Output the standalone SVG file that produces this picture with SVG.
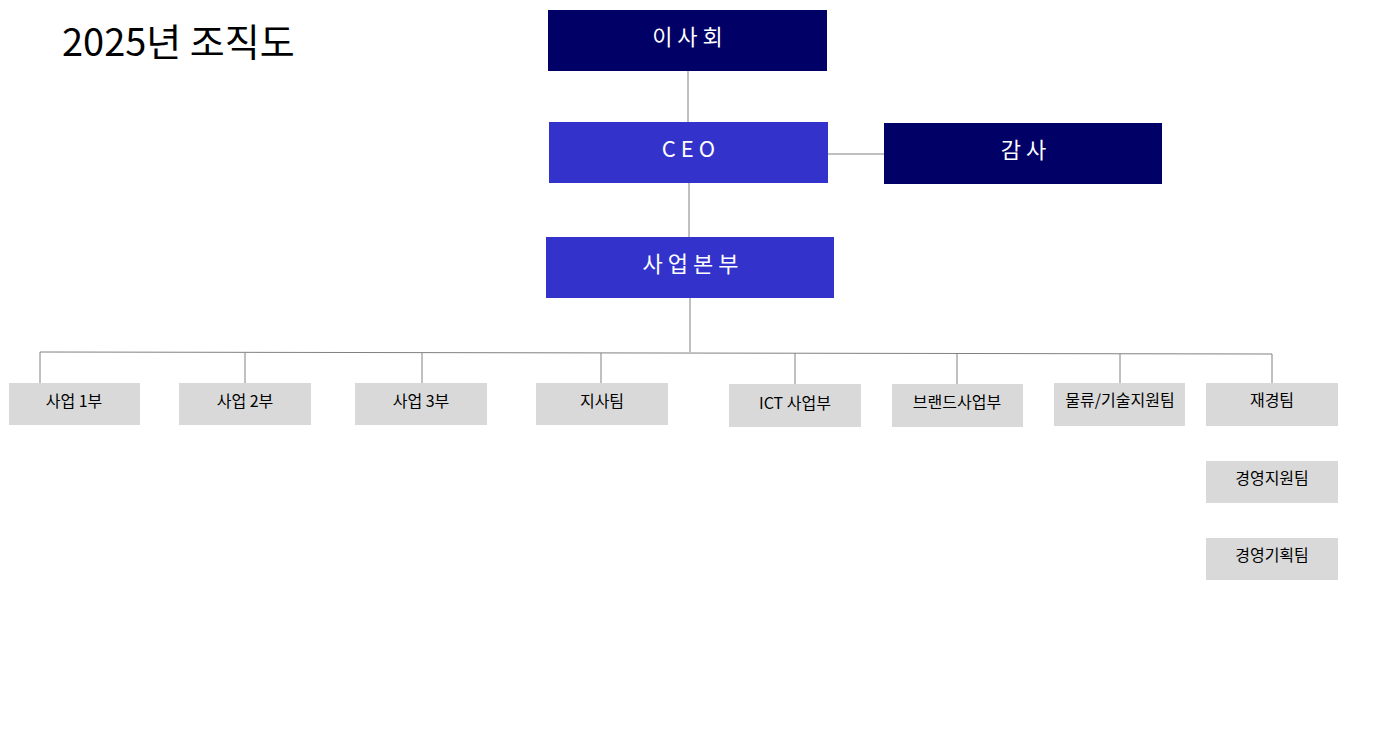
<svg xmlns="http://www.w3.org/2000/svg" width="1379" height="755" viewBox="0 0 1379 755">
<style>
.dark{fill:#000066}.blue{fill:#3333cc}.grey{fill:#d9d9d9}
.wt{fill:#fff;font-family:"Noto Sans CJK KR","Liberation Sans",sans-serif;font-size:22px;letter-spacing:5px;text-anchor:middle}
.bt{fill:#000;font-family:"Noto Sans CJK KR","Liberation Sans",sans-serif;font-size:16px;text-anchor:middle}
.ln{stroke:#808080;stroke-width:1;fill:none}
</style>
<rect width="1379" height="755" fill="#fff"/>
<text x="62" y="56" font-family="Noto Sans CJK KR, Liberation Sans, sans-serif" font-size="38" fill="#000">2025년 조직도</text>
<g id="connectors">
<path class="ln" d="M688 71V122M689 183V237M828 154H884M690 298V352M40 352L1272 354M40 352V383M245 353V383M422 353V383M601 353V383M795 353V384M957 353V384M1120 354V383M1272 354V383"/>
</g>
<g id="n1"><rect class="dark" x="548" y="10" width="279" height="61"/><text class="wt" x="690" y="45">이사회</text></g>
<g id="n2"><rect class="blue" x="549" y="122" width="279" height="61"/><text class="wt" x="691" y="157">CEO</text></g>
<g id="n3"><rect class="dark" x="884" y="123" width="278" height="61"/><text class="wt" x="1026" y="158">감사</text></g>
<g id="n4"><rect class="blue" x="546" y="237" width="288" height="61"/><text class="wt" x="693" y="272">사업본부</text></g>
<g id="b1"><rect class="grey" x="9" y="383" width="131" height="42"/><text class="bt" x="74" y="407">사업 1부</text></g>
<g id="b2"><rect class="grey" x="179" y="383" width="132" height="42"/><text class="bt" x="245" y="407">사업 2부</text></g>
<g id="b3"><rect class="grey" x="355" y="383" width="132" height="42"/><text class="bt" x="421" y="407">사업 3부</text></g>
<g id="b4"><rect class="grey" x="536" y="383" width="132" height="42"/><text class="bt" x="602" y="407">지사팀</text></g>
<g id="b5"><rect class="grey" x="729" y="384" width="132" height="43"/><text class="bt" x="795" y="409">ICT 사업부</text></g>
<g id="b6"><rect class="grey" x="892" y="384" width="131" height="43"/><text class="bt" x="957" y="408">브랜드사업부</text></g>
<g id="b7"><rect class="grey" x="1054" y="383" width="131" height="43"/><text class="bt" x="1120" y="406">물류/기술지원팀</text></g>
<g id="b8"><rect class="grey" x="1206" y="383" width="132" height="43"/><text class="bt" x="1272" y="406">재경팀</text></g>
<g id="b9"><rect class="grey" x="1206" y="461" width="132" height="42"/><text class="bt" x="1272" y="484">경영지원팀</text></g>
<g id="b10"><rect class="grey" x="1206" y="538" width="132" height="42"/><text class="bt" x="1272" y="561">경영기획팀</text></g>
</svg>
